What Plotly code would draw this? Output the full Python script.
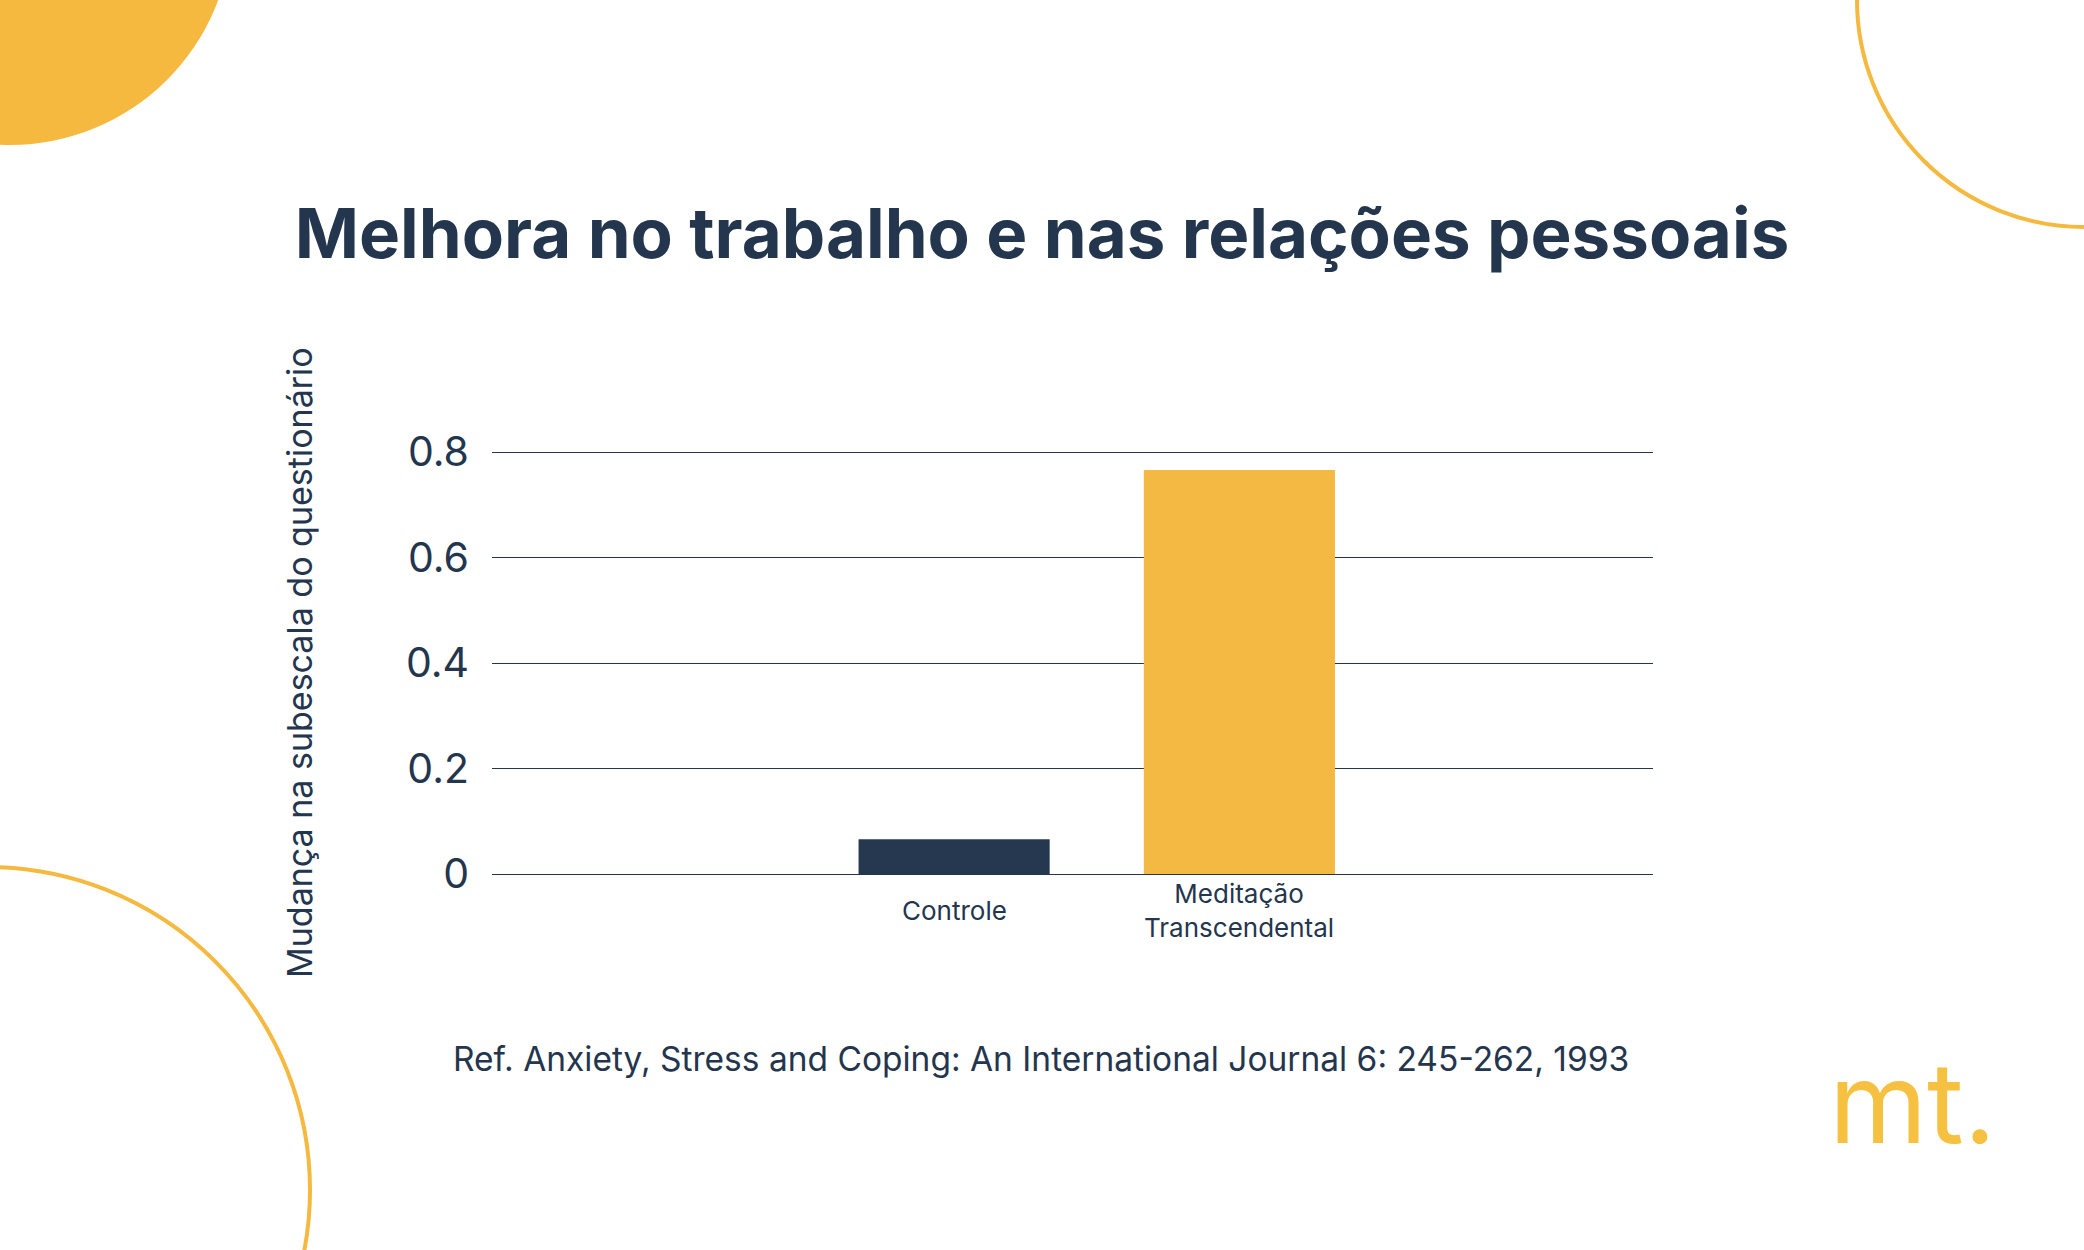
import plotly.graph_objects as go

categories = ["Controle", "Meditação<br>Transcendental"]
values = [0.066, 0.766]
bar_colors = ["#26384F", "#F4B942"]
y_ticks = [0, 0.2, 0.4, 0.6, 0.8]
y_tick_labels = ["0", "0.2", "0.4", "0.6", "0.8"]

title_text = "Melhora no trabalho e nas relações pessoais"
y_title = "Mudança na subescala do questionário"
ref_text = "Ref. Anxiety, Stress and Coping: An International Journal 6: 245-262, 1993"
logo_text = "mt."

W, H = 2084, 1250
ML, MR, MT, MB = 492, 431, 431, 376
PW, PH = W - ML - MR, H - MT - MB

NAVY = "#24364E"
GOLD = "#F5B940"


def px(x):
    return (x - ML) / PW


def py(y):
    return (H - MB - y) / PH


fig = go.Figure()
fig.add_trace(go.Bar(
    x=categories, y=values, width=0.67,
    marker=dict(color=bar_colors, line=dict(width=0)),
    hoverinfo="skip",
))

shapes = [
    dict(type="circle", xref="paper", yref="paper",
         x0=px(10 - 222), x1=px(10 + 222), y0=py(-77 + 222), y1=py(-77 - 222),
         fillcolor=GOLD, line=dict(width=0), layer="below"),
    dict(type="circle", xref="paper", yref="paper",
         x0=px(2084 - 227), x1=px(2084 + 227), y0=py(0 + 227), y1=py(0 - 227),
         fillcolor="rgba(0,0,0,0)", line=dict(color=GOLD, width=4), layer="below"),
    dict(type="circle", xref="paper", yref="paper",
         x0=px(-13 - 323), x1=px(-13 + 323), y0=py(1190 + 323), y1=py(1190 - 323),
         fillcolor="rgba(0,0,0,0)", line=dict(color=GOLD, width=4), layer="below"),
]

annotations = []
# category labels below bars
for c in categories:
    annotations.append(dict(
        x=c, xref="x", y=py(910), yref="paper", text=c, showarrow=False,
        xanchor="center", yanchor="middle",
        font=dict(family="Inter", size=26, color=NAVY)))
annotations += [
    dict(x=px(299), y=py(663), xref="paper", yref="paper", text=y_title,
         textangle=-90, showarrow=False, xanchor="center", yanchor="middle",
         font=dict(family="Inter", size=34, color=NAVY)),
    dict(x=px(1041), y=py(1059), xref="paper", yref="paper", text=ref_text,
         showarrow=False, xanchor="center", yanchor="middle",
         font=dict(family="Inter", size=33.5, color=NAVY)),
    dict(x=px(1912), y=py(1102), xref="paper", yref="paper", text=logo_text,
         showarrow=False, xanchor="center", yanchor="middle",
         font=dict(family="Inter", size=112, color="#F6C040")),
]

fig.update_layout(
    width=W, height=H,
    margin=dict(l=ML, r=MR, t=MT, b=MB, pad=0),
    paper_bgcolor="white", plot_bgcolor="white",
    showlegend=False, bargap=0.33,
    title=dict(text=title_text, x=1042 / W, xref="container",
               y=1 - 234 / H, xanchor="center", yanchor="middle",
               font=dict(family="Inter", size=69, color=NAVY, weight=700)),
    shapes=shapes, annotations=annotations,
    xaxis=dict(type="category", range=[-1.62, 2.45], showticklabels=False,
               showgrid=False, zeroline=False, showline=False, ticks=""),
    yaxis=dict(range=[0, 0.84], tickvals=y_ticks, ticktext=y_tick_labels,
               showgrid=True, gridcolor=NAVY, gridwidth=1.3,
               zeroline=True, zerolinecolor=NAVY, zerolinewidth=1.3,
               showline=False, ticks="", ticklabelstandoff=22,
               tickfont=dict(family="Inter", size=41, color=NAVY)),
)

fig.write_html("out.html")
